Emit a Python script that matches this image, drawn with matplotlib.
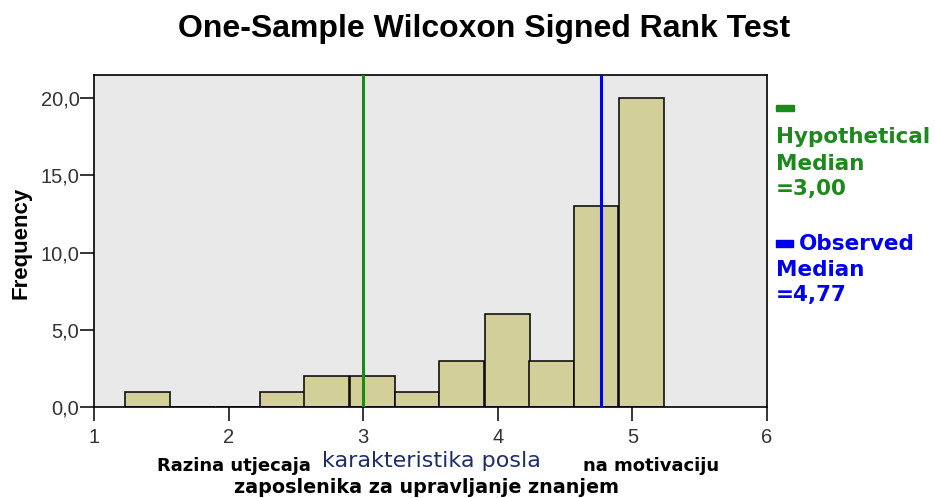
import matplotlib.pyplot as plt
from matplotlib.patches import Rectangle
from matplotlib.ticker import FuncFormatter

# histogram data
bin_centers = [1.40, 1.73, 2.07, 2.40, 2.73, 3.07, 3.40, 3.73, 4.07, 4.40, 4.73, 5.07]
counts = [1, 0, 0, 1, 2, 2, 1, 3, 6, 3, 13, 20]
bin_width = 1 / 3
hyp_median = 3.00
obs_median = 4.77
x_ticks = [1, 2, 3, 4, 5, 6]
y_ticks = [0, 5, 10, 15, 20]

W, H = 935, 498
narrow = ['Liberation Sans Narrow', 'Liberation Sans', 'DejaVu Sans']
arial = ['Liberation Sans', 'DejaVu Sans']
wide = ['DejaVu Sans']
green = '#1a8a1a'
blue = '#0000f0'

fig = plt.figure(figsize=(W / 100, H / 100), dpi=100)
ax = fig.add_axes([94 / W, 1 - 407 / H, (767 - 94) / W, (407 - 75) / H])
ax.set_facecolor('#e9e9e9')

ax.bar(bin_centers, counts, width=bin_width, color='#d3cf98', edgecolor='black', linewidth=1.1, zorder=2)
ax.axvline(hyp_median, color=green, linewidth=2.2, zorder=3)
ax.axvline(obs_median, color=blue, linewidth=2.2, zorder=3)

ax.set_xlim(1, 6)
ax.set_ylim(0, 21.5)
ax.set_xticks(x_ticks)
ax.set_yticks(y_ticks)
ax.yaxis.set_major_formatter(FuncFormatter(lambda v, p: f'{v:.1f}'.replace('.', ',')))
ax.tick_params(axis='both', direction='out', length=10, width=1.1, colors='black',
               labelsize=14.5, labelcolor='#333333')
ax.tick_params(axis='y', pad=0.5)
ax.tick_params(axis='x', pad=5)
for lab in ax.get_xticklabels() + ax.get_yticklabels():
    lab.set_family(arial)
for s in ax.spines.values():
    s.set_linewidth(1.2)

fig.text(21 / W, 1 - 243 / H, 'Frequency', rotation=90, ha='center', va='center',
         fontsize=16, fontweight='bold', family=narrow)

# title
fig.text(484 / W, 1 - 29 / H, 'One-Sample Wilcoxon Signed Rank Test', ha='center', va='center',
         fontsize=23, family=narrow, fontweight='bold')

# x axis label, mixed styles
fig.text(157 / W, 1 - 466 / H, 'Razina utjecaja', fontsize=13, fontweight='bold', family=wide, va='center')
fig.text(322 / W, 1 - 461 / H, 'karakteristika posla', fontsize=16, color='#1f2d6e',
         family=wide, va='center')
fig.text(583 / W, 1 - 466 / H, 'na motivaciju', fontsize=13, fontweight='bold', family=wide, va='center')
fig.text(427 / W, 1 - 487 / H, 'zaposlenika za upravljanje znanjem', fontsize=13.8, fontweight='bold',
         family=wide, va='center', ha='center')

# legend on the right
fig.add_artist(Rectangle((776 / W, 1 - 111 / H), 18 / W, 6 / H, color=green, transform=fig.transFigure))
fig.add_artist(Rectangle((776 / W, 1 - 247 / H), 17 / W, 7 / H, color=blue, transform=fig.transFigure))
hyp_lines = ['Hypothetical', 'Median', '=3,00']
obs_lines = ['Observed', 'Median', '=4,77']
for txt, yb in zip(hyp_lines, [143, 170, 195]):
    fig.text(776 / W, 1 - yb / H, txt, color=green, fontsize=15.5, fontweight='bold',
             family=wide, va='baseline')
for txt, xl, yb in zip(obs_lines, [799, 776, 776], [250, 276, 301]):
    fig.text(xl / W, 1 - yb / H, txt, color=blue, fontsize=15.5, fontweight='bold',
             family=wide, va='baseline')

fig.savefig('out.png', dpi=100, facecolor='white')
